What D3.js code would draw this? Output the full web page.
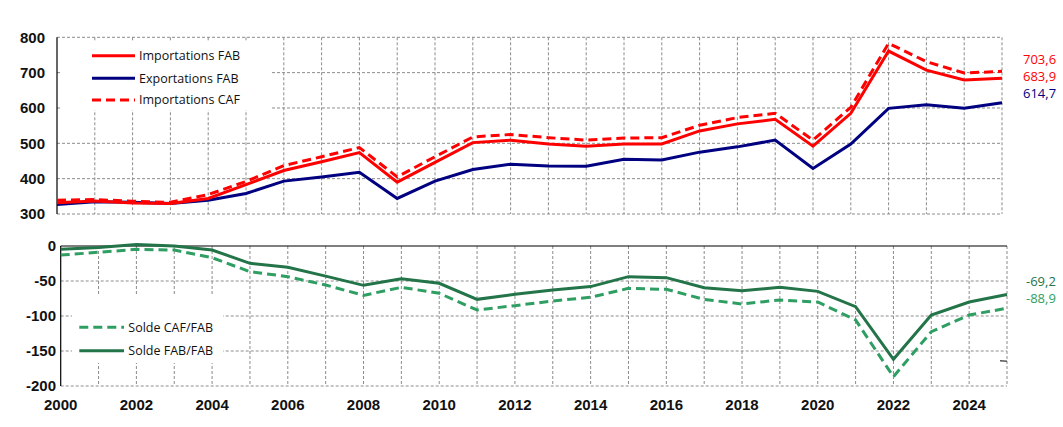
<!DOCTYPE html>
<html><head><meta charset="utf-8">
<script src="https://cdn.jsdelivr.net/npm/d3@7"></script>
<style>
html,body{margin:0;padding:0;background:#fff;}
svg{display:block;}
</style></head>
<body>
<svg id="chart" width="1063" height="427"></svg>
<script>
const years = d3.range(2000, 2026);
const importsFAB = [332,337,331,330,344,383,423,448,474,390,446,502,509,498,492,498,498,535,555,568,492,585,761,707,679,683.9];
const exportsFAB = [327,335,333,330,339,358,393,405,418,344,393,426,441,436,435,455,453,475,490,509,429,498,599,609,599,614.7];
const importsCAF = [339,341,336,333,355,392,437,462,488,405,462,518,525,516,509,515,516,551,573,585,509,602,783,731,699,703.6];
const soldeFAB = [-4.7,-2,2,0,-5.7,-24.8,-30.5,-43,-56.2,-46.7,-53.3,-76.2,-69,-62.9,-58,-43.8,-45.2,-59.5,-63.8,-59,-64.8,-86.7,-161.9,-98.6,-80,-69.2];
const soldeCAF = [-12.9,-9,-4.8,-5.7,-16.7,-36.7,-43.8,-55.7,-70.5,-59,-67.6,-91.4,-85.2,-78.6,-73.3,-60.5,-61.9,-76.2,-82.9,-77.1,-80,-105.7,-186.7,-122.4,-98.6,-88.9];
const topTicks = [300,400,500,600,700,800];
const bottomTicks = [-200,-150,-100,-50,0];
const xTickYears = d3.range(2000, 2026, 2);

const RED = "#ff0000", NAVY = "#000080", DKG = "#237448", LTG = "#2f9e62";
const svg = d3.select("#chart");
const tickFont = "'Liberation Sans', Arial, sans-serif";
const legFont = "'Open Sans', 'Noto Sans', sans-serif";

// ---------- top panel ----------
const xT = d3.scaleLinear().domain([2000, 2025]).range([57, 1002]);
const yT = d3.scaleLinear().domain([300, 800]).range([214, 37.3]);
const gT = svg.append("g");
gT.selectAll(".hg").data(topTicks).join("line")
  .attr("x1", xT(2000)).attr("x2", xT(2025))
  .attr("y1", d => yT(d)).attr("y2", d => yT(d))
  .attr("stroke", "#8c8c8c").attr("stroke-width", 1).attr("stroke-dasharray", "3,2");
gT.selectAll(".vg").data(years.slice(1)).join("line")
  .attr("x1", d => xT(d)).attr("x2", d => xT(d))
  .attr("y1", yT(800)).attr("y2", yT(300))
  .attr("stroke", "#8c8c8c").attr("stroke-width", 1).attr("stroke-dasharray", "3,2");
gT.append("line").attr("x1", xT(2000)).attr("x2", xT(2000)).attr("y1", yT(800)).attr("y2", yT(300))
  .attr("stroke", "#000").attr("stroke-width", 1.2);
gT.selectAll(".yl").data(topTicks).join("text")
  .attr("x", 45).attr("y", d => yT(d)).attr("dy", "0.35em")
  .attr("text-anchor", "end").attr("font-family", tickFont).attr("font-weight", "bold")
  .attr("font-size", 15).attr("fill", "#111").text(d => d);
gT.append("rect").attr("x", 62).attr("y", 41).attr("width", 208).attr("height", 69).attr("fill", "#fff");

const lineT = arr => d3.line().x((d, i) => xT(years[i])).y(d => yT(d))(arr);
gT.append("path").attr("d", lineT(exportsFAB)).attr("fill", "none").attr("stroke", NAVY).attr("stroke-width", 3);
gT.append("path").attr("d", lineT(importsFAB)).attr("fill", "none").attr("stroke", RED).attr("stroke-width", 3);
gT.append("path").attr("d", lineT(importsCAF)).attr("fill", "none").attr("stroke", RED).attr("stroke-width", 3).attr("stroke-dasharray", "9,5");

const legTop = [
  {name: "Importations FAB", color: RED, dash: null, y: 55.7},
  {name: "Exportations FAB", color: NAVY, dash: null, y: 78.3},
  {name: "Importations CAF", color: RED, dash: "9,5", y: 100}
];
legTop.forEach(l => {
  gT.append("line").attr("x1", 92).attr("x2", 135).attr("y1", l.y).attr("y2", l.y)
    .attr("stroke", l.color).attr("stroke-width", 3).attr("stroke-dasharray", l.dash);
  gT.append("text").attr("x", 139).attr("y", l.y).attr("dy", "0.35em")
    .attr("font-family", legFont).attr("font-size", 12.5).attr("fill", "#111").text(l.name);
});
const fmt = v => v.toFixed(1).replace(".", ",");
[{v: importsCAF[25], c: RED, y: 59.3}, {v: importsFAB[25], c: RED, y: 76.7}, {v: exportsFAB[25], c: NAVY, y: 93.3}]
  .forEach(l => gT.append("text").attr("x", 1023).attr("y", l.y).attr("dy", "0.35em")
    .attr("font-family", legFont).attr("font-size", 13).attr("fill", l.c).text(fmt(l.v)));

// ---------- bottom panel ----------
const xB = d3.scaleLinear().domain([2000, 2025]).range([60.7, 1007]);
const yB = d3.scaleLinear().domain([-200, 0]).range([386, 246]);
const gB = svg.append("g");
gB.selectAll(".hg").data(bottomTicks.filter(d => d !== 0)).join("line")
  .attr("x1", xB(2000)).attr("x2", xB(2025))
  .attr("y1", d => yB(d)).attr("y2", d => yB(d))
  .attr("stroke", "#8c8c8c").attr("stroke-width", 1).attr("stroke-dasharray", "3,2");
gB.selectAll(".vg").data(years.slice(1)).join("line")
  .attr("x1", d => xB(d)).attr("x2", d => xB(d))
  .attr("y1", yB(0)).attr("y2", yB(-200))
  .attr("stroke", "#8c8c8c").attr("stroke-width", 1).attr("stroke-dasharray", "3,2");
gB.append("line").attr("x1", xB(2000)).attr("x2", xB(2025)).attr("y1", yB(0)).attr("y2", yB(0))
  .attr("stroke", "#000").attr("stroke-width", 1.2);
gB.append("line").attr("x1", xB(2000)).attr("x2", xB(2000)).attr("y1", yB(0)).attr("y2", yB(-200))
  .attr("stroke", "#000").attr("stroke-width", 1.2);
gB.selectAll(".yl").data(bottomTicks).join("text")
  .attr("x", 56).attr("y", d => yB(d)).attr("dy", "0.35em")
  .attr("text-anchor", "end").attr("font-family", tickFont).attr("font-weight", "bold")
  .attr("font-size", 15).attr("fill", "#111").text(d => String(d));
gB.selectAll(".xl").data(xTickYears).join("text")
  .attr("x", d => xB(d)).attr("y", 410)
  .attr("text-anchor", "middle").attr("font-family", tickFont).attr("font-weight", "bold")
  .attr("font-size", 15).attr("fill", "#111").text(d => d);
gB.append("rect").attr("x", 72).attr("y", 296).attr("width", 151).attr("height", 67).attr("fill", "#fff");

const lineB = arr => d3.line().x((d, i) => xB(years[i])).y(d => yB(d))(arr);
gB.append("path").attr("d", lineB(soldeCAF)).attr("fill", "none").attr("stroke", LTG).attr("stroke-width", 3).attr("stroke-dasharray", "9,5");
gB.append("path").attr("d", lineB(soldeFAB)).attr("fill", "none").attr("stroke", DKG).attr("stroke-width", 3);

const legBot = [
  {name: "Solde CAF/FAB", color: LTG, dash: "9,5", y: 327.3},
  {name: "Solde FAB/FAB", color: DKG, dash: null, y: 350.7}
];
legBot.forEach(l => {
  gB.append("line").attr("x1", 79.3).attr("x2", 124).attr("y1", l.y).attr("y2", l.y)
    .attr("stroke", l.color).attr("stroke-width", 3).attr("stroke-dasharray", l.dash);
  gB.append("text").attr("x", 128.3).attr("y", l.y).attr("dy", "0.35em")
    .attr("font-family", legFont).attr("font-size", 12.5).attr("fill", "#111").text(l.name);
});
[{v: soldeFAB[25], c: DKG, y: 281.7}, {v: soldeCAF[25], c: LTG, y: 298.3}]
  .forEach(l => gB.append("text").attr("x", 1026).attr("y", l.y).attr("dy", "0.35em")
    .attr("font-family", legFont).attr("font-size", 13).attr("fill", l.c).text(fmt(l.v)));
gB.append("line").attr("x1", 1000).attr("x2", 1007).attr("y1", 360.7).attr("y2", 361.2)
  .attr("stroke", "#555").attr("stroke-width", 1.5);
</script>
</body></html>
